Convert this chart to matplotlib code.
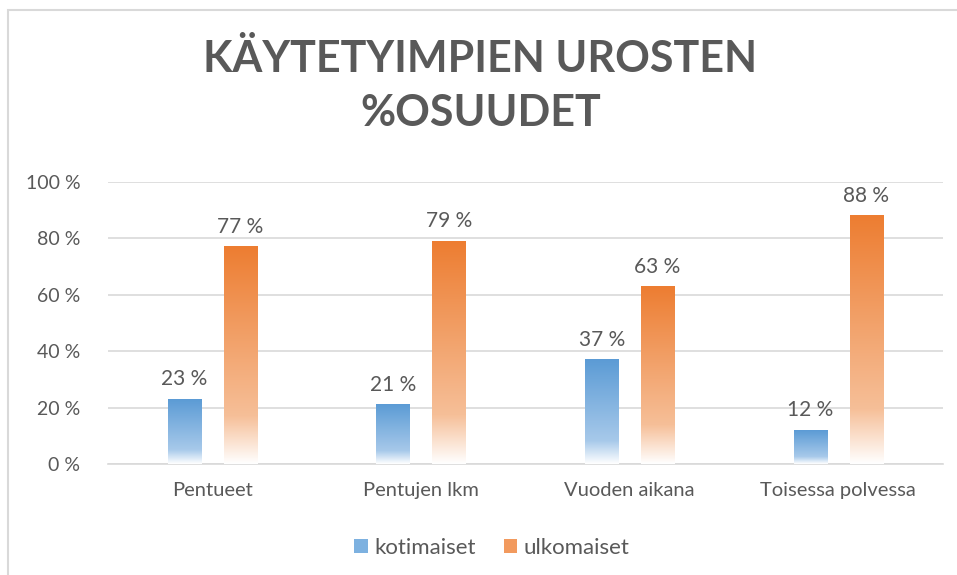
import numpy as np
import matplotlib
matplotlib.use("Agg")
import matplotlib.pyplot as plt
from matplotlib.colors import LinearSegmentedColormap
from matplotlib.patches import Patch, Rectangle

categories = ["Pentueet", "Pentujen lkm", "Vuoden aikana", "Toisessa polvessa"]
kotimaiset = [23, 21, 37, 12]
ulkomaiset = [77, 79, 63, 88]
series_names = ["kotimaiset", "ulkomaiset"]
yticks = [0, 20, 40, 60, 80, 100]

plt.rcParams["font.family"] = ["Lato", "DejaVu Sans"]
text_col = "#595959"
grid_col = "#d9d9d9"

blue_cmap = LinearSegmentedColormap.from_list(
    "b", [(0, "#ffffff"), (0.22, "#a7c9ea"), (1, "#5b9bd5")])
orange_cmap = LinearSegmentedColormap.from_list(
    "o", [(0, "#ffffff"), (0.22, "#f6bf98"), (1, "#ed7d31")])

fig = plt.figure(figsize=(9.57, 5.75), dpi=100)
ax = fig.add_axes([0.1129, 0.193, 0.872, 0.4905])

x = np.arange(len(categories))
width = 0.16
offset = 0.134
grad = np.linspace(1, 0, 256).reshape(-1, 1)


def grad_bars(xpos, vals, cmap):
    for xi, v in zip(xpos, vals):
        ax.imshow(grad, cmap=cmap, vmin=0, vmax=1, aspect="auto",
                  extent=(xi - width / 2, xi + width / 2, 0, v), zorder=3)
        ax.annotate(f"{v} %", (xi, v), xytext=(0, 7), textcoords="offset points",
                    ha="center", va="bottom", fontsize=15, color=text_col)


grad_bars(x - offset, kotimaiset, blue_cmap)
grad_bars(x + offset, ulkomaiset, orange_cmap)

ax.set_xlim(-0.5, len(categories) - 0.5)
ax.set_ylim(0, 100)
ax.set_yticks(yticks)
ax.set_yticklabels([f"{t} %" for t in yticks])
ax.set_xticks(x)
ax.set_xticklabels(categories)
ax.tick_params(length=0, labelsize=14.5, colors=text_col)
ax.tick_params(axis="y", labelsize=14, pad=20)
ax.tick_params(axis="x", pad=13)
ax.grid(axis="y", color=grid_col, linewidth=1.2, zorder=0)
for s in ["top", "right", "left"]:
    ax.spines[s].set_visible(False)
ax.spines["bottom"].set_color(grid_col)
ax.spines["bottom"].set_linewidth(1.2)
ax.set_facecolor("none")

fig.text(0.502, 0.851, "KÄYTETYIMPIEN UROSTEN\n%OSUUDET", ha="center", va="center",
         fontsize=31, fontweight="bold", color=text_col, linespacing=1.42)

handles = [Patch(facecolor="#7db1e0", label=series_names[0]),
           Patch(facecolor="#f29a5e", label=series_names[1])]
fig.legend(handles=handles, loc="center", bbox_to_anchor=(0.514, 0.047), ncol=2,
           frameon=False, fontsize=16, handlelength=0.6, handleheight=0.6,
           handletextpad=0.3, columnspacing=1.25, labelcolor=text_col)

fig.patches.append(Rectangle((8 / 957, -0.1), 1.0, 1 - 10 / 575 + 0.1,
                             transform=fig.transFigure, fill=False,
                             edgecolor=grid_col, linewidth=1.5))

fig.savefig("out.png", dpi=100)
